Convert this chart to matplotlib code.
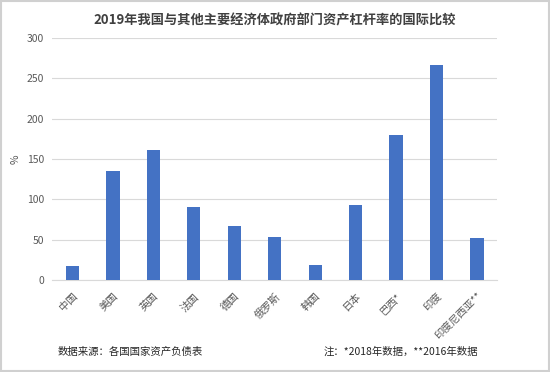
import matplotlib.pyplot as plt
from matplotlib.patches import Rectangle

plt.rcParams['font.family'] = ['Noto Sans CJK SC', 'DejaVu Sans']

countries = ['中国', '美国', '英国', '法国', '德国', '俄罗斯', '韩国', '日本', '巴西*', '印度', '印度尼西亚**']
leverage = [18, 135, 161, 90, 67, 53, 19, 93, 180, 266, 52]
yticks = [0, 50, 100, 150, 200, 250, 300]

text_gray = '#595959'

fig = plt.figure(figsize=(5.5, 3.72), dpi=100)
ax = fig.add_axes([0.095, 0.247, 0.809, 0.651])

ax.bar(range(len(countries)), leverage, width=0.33, color='#4472C4', zorder=3)

ax.set_ylim(0, 300)
ax.set_xlim(-0.5, len(countries) - 0.5)
ax.set_yticks(yticks)
ax.yaxis.grid(True, color='#D9D9D9', linewidth=0.8, zorder=0)
ax.set_xticks(range(len(countries)))
ax.set_xticklabels(countries, rotation=45, ha='right', rotation_mode='anchor')
ax.tick_params(axis='both', length=0, labelsize=7.5, colors=text_gray, pad=6)
ax.tick_params(axis='x', pad=8)
for side in ['top', 'right', 'left']:
    ax.spines[side].set_visible(False)
ax.spines['bottom'].set_color('#D9D9D9')
ax.set_ylabel('%', color=text_gray, fontsize=7.5, labelpad=4)

fig.text(0.5, 0.944, '2019年我国与其他主要经济体政府部门资产杠杆率的国际比较',
         ha='center', va='center', fontsize=9.5, fontweight='bold', color='#404040')
fig.text(0.104, 0.054, '数据来源：各国国家资产负债表', ha='left', va='center',
         fontsize=7.5, color='#262626')
fig.text(0.87, 0.054, '注：*2018年数据，**2016年数据', ha='right', va='center',
         fontsize=7.5, color='#262626')

fig.patches.append(Rectangle((0.002, 0.003), 0.996, 0.994, transform=fig.transFigure,
                             fill=False, edgecolor='#D0D0D0', linewidth=1.5))

fig.savefig('out.png', dpi=100)
